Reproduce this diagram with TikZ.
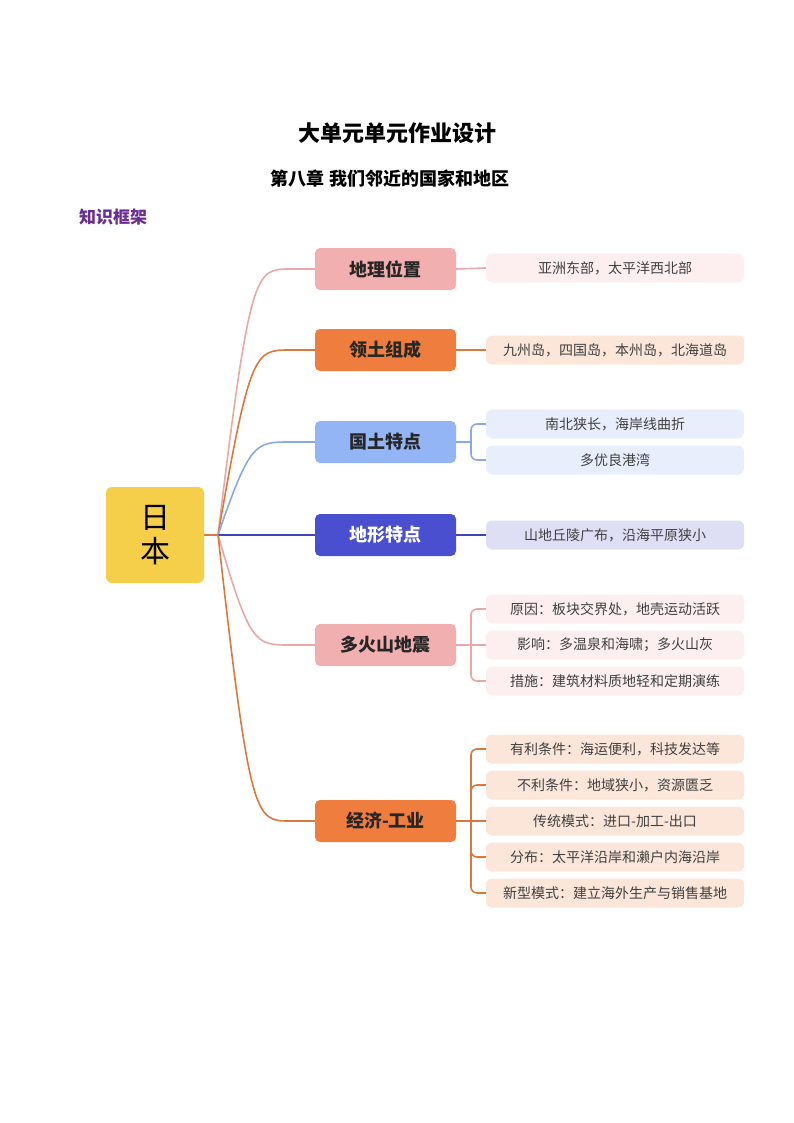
\documentclass[tikz,border=0pt]{standalone}
\usepackage{fontspec}
\setmainfont{Noto Sans CJK SC}
\newfontfamily\cjkbold{Noto Sans CJK SC}[BoldFont={* Bold}]
\definecolor{pinkB}{HTML}{F2AFAF}
\definecolor{pinkL}{HTML}{FDEFEF}
\definecolor{pinkE}{HTML}{E8A8A8}
\definecolor{oranB}{HTML}{EE7D3E}
\definecolor{oranL}{HTML}{FBE6D9}
\definecolor{oranE}{HTML}{D9793E}
\definecolor{bluB}{HTML}{93B4F5}
\definecolor{bluL}{HTML}{E8EEFC}
\definecolor{bluE}{HTML}{8AA8E8}
\definecolor{navB}{HTML}{4A4FCF}
\definecolor{navL}{HTML}{DEDFF5}
\definecolor{navE}{HTML}{3F46B5}
\definecolor{rootY}{HTML}{F5CE4A}
\definecolor{purp}{HTML}{6A2C91}
\tikzset{
  branch/.style={rounded corners=5pt,minimum width=141pt,minimum height=42pt,
    font=\fontsize{18}{20}\selectfont\bfseries,text=black!85},
  leaf/.style={rounded corners=6pt,minimum width=258pt,minimum height=29pt,
    font=\fontsize{14}{16}\selectfont,text=black!75},
  link/.style={line width=1.6pt},
  fork/.style={line width=1.6pt,rounded corners=6pt}
}
\begin{document}
\begin{tikzpicture}[x=1pt,y=-1pt]
\useasboundingbox (0,0) rectangle (794,1123);
\node (title) at (397,133) {\fontsize{22}{24}\selectfont\bfseries 大单元单元作业设计};
\node (sub) at (390,179) {\fontsize{18}{20}\selectfont\bfseries 第八章 我们邻近的国家和地区};
\node[text=purp] (kf) at (113,217) {\fontsize{17}{19}\selectfont\bfseries 知识框架};
\node[fill=rootY,rounded corners=6pt,minimum width=98pt,minimum height=96pt,
  align=center,font=\fontsize{30}{34}\selectfont] (root) at (155,535) {日\\本};
\coordinate (R) at (218,535);
\draw[oranE,link] (root.east) -- (R);
% branches
\node[branch,fill=pinkB] (b1) at (385.5,269) {地理位置};
\node[branch,fill=oranB] (b2) at (385.5,350) {领土组成};
\node[branch,fill=bluB] (b3) at (385.5,442) {国土特点};
\node[branch,fill=navB,text=white] (b4) at (385.5,535) {地形特点};
\node[branch,fill=pinkB] (b5) at (385.5,645) {多火山地震};
\node[branch,fill=oranB] (b6) at (385.5,821) {经济-工业};
\draw[pinkE,link] (R) .. controls (250,269) and (255,269) .. (290,269) -- (b1.west);
\draw[oranE,link] (R) .. controls (250,350) and (255,350) .. (290,350) -- (b2.west);
\draw[bluE,link] (R) .. controls (250,442) and (255,442) .. (290,442) -- (b3.west);
\draw[navE,link] (R) -- (b4.west);
\draw[pinkE,link] (R) .. controls (250,645) and (255,645) .. (290,645) -- (b5.west);
\draw[oranE,link] (R) .. controls (250,821) and (255,821) .. (290,821) -- (b6.west);
% leaves
\node[leaf,fill=pinkL] (l1) at (615,268) {亚洲东部，太平洋西北部};
\node[leaf,fill=oranL] (l2) at (615,350) {九州岛，四国岛，本州岛，北海道岛};
\node[leaf,fill=bluL] (l3a) at (615,424) {南北狭长，海岸线曲折};
\node[leaf,fill=bluL] (l3b) at (615,460) {多优良港湾};
\node[leaf,fill=navL] (l4) at (615,535) {山地丘陵广布，沿海平原狭小};
\node[leaf,fill=pinkL] (l5a) at (615,609) {原因：板块交界处，地壳运动活跃};
\node[leaf,fill=pinkL] (l5b) at (615,645) {影响：多温泉和海啸；多火山灰};
\node[leaf,fill=pinkL] (l5c) at (615,681) {措施：建筑材料质地轻和定期演练};
\node[leaf,fill=oranL] (l6a) at (615,749) {有利条件：海运便利，科技发达等};
\node[leaf,fill=oranL] (l6b) at (615,785) {不利条件：地域狭小，资源匮乏};
\node[leaf,fill=oranL] (l6c) at (615,821) {传统模式：进口-加工-出口};
\node[leaf,fill=oranL] (l6d) at (615,857) {分布：太平洋沿岸和濑户内海沿岸};
\node[leaf,fill=oranL] (l6e) at (615,893) {新型模式：建立海外生产与销售基地};
\draw[pinkE,link] (b1.east) -- (l1.west);
\draw[oranE,link] (b2.east) -- (l2.west);
\draw[navE,link] (b4.east) -- (l4.west);
\coordinate (F3) at (471,442);
\coordinate (F5) at (471,645);
\coordinate (F6) at (471,821);
\draw[bluE,link] (b3.east) -- (F3);
\draw[bluE,fork] (F3) |- (l3a.west);
\draw[bluE,fork] (F3) |- (l3b.west);
\draw[pinkE,link] (b5.east) -- (l5b.west);
\draw[pinkE,fork] (F5) |- (l5a.west);
\draw[pinkE,fork] (F5) |- (l5c.west);
\draw[oranE,link] (b6.east) -- (l6c.west);
\draw[oranE,fork] (F6) |- (l6a.west);
\draw[oranE,fork] (F6) |- (l6b.west);
\draw[oranE,fork] (F6) |- (l6d.west);
\draw[oranE,fork] (F6) |- (l6e.west);
\end{tikzpicture}
\end{document}
